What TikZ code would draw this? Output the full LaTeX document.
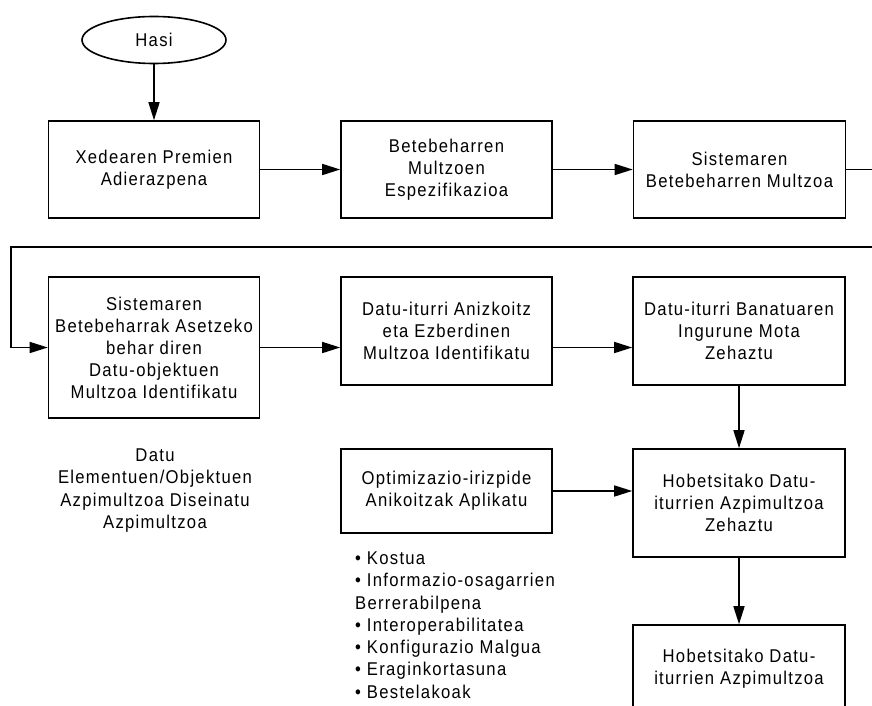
\documentclass[tikz,border=0pt]{standalone}
\usepackage{fontspec}
\setmainfont{Liberation Sans}[FakeStretch=0.9, LetterSpace=7]
\usetikzlibrary{shapes.geometric,arrows.meta}

\tikzset{
  stepbox/.style={draw, line width=1.6pt, minimum width=211pt, inner sep=2pt,
    align=center, font=\fontsize{18.5}{22}\selectfont},
  startnode/.style={draw, ellipse, line width=1.6pt, minimum width=144pt,
    minimum height=47pt, font=\fontsize{18.5}{22}\selectfont},
  plaintext/.style={inner sep=0pt, font=\fontsize{18.5}{22.3}\selectfont},
  flow/.style={line width=1.6pt, -{Triangle[length=18pt,width=11pt]}},
}

\begin{document}
\begin{tikzpicture}[x=1pt, y=-1pt]
\clip (0,0) rectangle (872,706);
\fill[white] (0,0) rectangle (872,706);

% start
\node[startnode] (hasi) at (154,40) {Hasi};

% first row
\node[stepbox, minimum height=97pt] (b1) at (154,169.5) {Xedearen Premien\\Adierazpena};
\node[stepbox, minimum height=97pt] (b2) at (446.5,169.5) {Betebeharren\\Multzoen\\Espezifikazioa};
\node[stepbox, minimum height=97pt, minimum width=212pt] (b3) at (739.5,169.5) {Sistemaren\\Betebeharren Multzoa};

% second row
\node[stepbox, minimum height=141pt] (b4) at (154,347.5) {Sistemaren\\Betebeharrak Asetzeko\\behar diren\\Datu-objektuen\\Multzoa Identifikatu};
\node[stepbox, minimum height=108pt] (b5) at (446.5,331) {Datu-iturri Anizkoitz\\eta Ezberdinen\\Multzoa Identifikatu};
\node[stepbox, minimum height=108pt, minimum width=212pt] (b6) at (739,331) {Datu-iturri Banatuaren\\Ingurune Mota\\Zehaztu};

% lower part
\node[stepbox, minimum height=84pt] (b8) at (446.5,491) {Optimizazio-irizpide\\Anikoitzak Aplikatu};
\node[stepbox, minimum height=108pt, minimum width=212pt] (b7) at (739,503) {Hobetsitako Datu-\\iturrien Azpimultzoa\\Zehaztu};
\node[stepbox, minimum height=88pt, minimum width=212pt] (b9) at (739,669) {Hobetsitako Datu-\\iturrien Azpimultzoa};

% free text
\node[plaintext, align=center] (datu) at (155,490.5) {Datu\\Elementuen/Objektuen\\Azpimultzoa Diseinatu\\Azpimultzoa};
\node[plaintext, align=left, anchor=north west] (crit) at (355,551.5) {%
  • Kostua\\
  • Informazio-osagarrien\\
  Berrerabilpena\\
  • Interoperabilitatea\\
  • Konfigurazio Malgua\\
  • Eraginkortasuna\\
  • Bestelakoak};

% wrap-around route between the rows
\coordinate (wrapR) at (895,247);
\coordinate (wrapL) at (11,247);

% connectors
\draw[flow] (hasi.south) -- (b1.north);
\draw[flow] (b1.east) -- (b2.west);
\draw[flow] (b2.east) -- (b3.west);
\draw[flow] (b3.east) -- (wrapR |- b3.east) -- (wrapR) -- (wrapL) |- (b4.west);
\draw[flow] (b4.east) -- (b4.east -| b5.west);
\draw[flow] (b5.east |- b4.east) -- (b6.west |- b4.east);
\draw[flow] (b6.south) -- (b7.north);
\draw[flow] (b8.east) -- (b8.east -| b7.west);
\draw[flow] (b7.south) -- (b9.north);
\end{tikzpicture}
\end{document}
